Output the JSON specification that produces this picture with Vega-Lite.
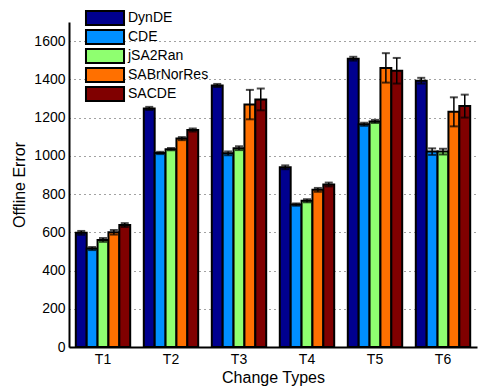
{
  "$schema": "https://vega.github.io/schema/vega-lite/v6.json",
  "autosize": "none",
  "width": 408,
  "height": 325,
  "padding": {"left": 69, "top": 22, "right": 1, "bottom": 42},
  "config": {
    "font": "Liberation Sans",
    "view": {"stroke": null},
    "axis": {"labelFont": "Liberation Sans", "titleFont": "Liberation Sans", "labelColor": "black", "titleColor": "black", "titleFontWeight": "normal", "domainColor": "black", "domainWidth": 2}
  },
  "data": {"values": [
    {"t": "T1", "s": "DynDE", "v": 597, "lo": 587, "hi": 607},
    {"t": "T1", "s": "CDE", "v": 515, "lo": 507, "hi": 523},
    {"t": "T1", "s": "jSA2Ran", "v": 560, "lo": 550, "hi": 570},
    {"t": "T1", "s": "SABrNorRes", "v": 600, "lo": 588, "hi": 612},
    {"t": "T1", "s": "SACDE", "v": 638, "lo": 628, "hi": 648},
    {"t": "T2", "s": "DynDE", "v": 1248, "lo": 1240, "hi": 1256},
    {"t": "T2", "s": "CDE", "v": 1015, "lo": 1009, "hi": 1021},
    {"t": "T2", "s": "jSA2Ran", "v": 1035, "lo": 1029, "hi": 1041},
    {"t": "T2", "s": "SABrNorRes", "v": 1090, "lo": 1082, "hi": 1098},
    {"t": "T2", "s": "SACDE", "v": 1135, "lo": 1127, "hi": 1143},
    {"t": "T3", "s": "DynDE", "v": 1368, "lo": 1360, "hi": 1376},
    {"t": "T3", "s": "CDE", "v": 1013, "lo": 1003, "hi": 1023},
    {"t": "T3", "s": "jSA2Ran", "v": 1040, "lo": 1030, "hi": 1050},
    {"t": "T3", "s": "SABrNorRes", "v": 1268, "lo": 1191, "hi": 1345},
    {"t": "T3", "s": "SACDE", "v": 1295, "lo": 1238, "hi": 1352},
    {"t": "T4", "s": "DynDE", "v": 940, "lo": 930, "hi": 950},
    {"t": "T4", "s": "CDE", "v": 745, "lo": 739, "hi": 751},
    {"t": "T4", "s": "jSA2Ran", "v": 765, "lo": 757, "hi": 773},
    {"t": "T4", "s": "SABrNorRes", "v": 822, "lo": 812, "hi": 832},
    {"t": "T4", "s": "SACDE", "v": 850, "lo": 840, "hi": 860},
    {"t": "T5", "s": "DynDE", "v": 1508, "lo": 1498, "hi": 1518},
    {"t": "T5", "s": "CDE", "v": 1165, "lo": 1157, "hi": 1173},
    {"t": "T5", "s": "jSA2Ran", "v": 1180, "lo": 1172, "hi": 1188},
    {"t": "T5", "s": "SABrNorRes", "v": 1460, "lo": 1383, "hi": 1537},
    {"t": "T5", "s": "SACDE", "v": 1445, "lo": 1378, "hi": 1512},
    {"t": "T6", "s": "DynDE", "v": 1393, "lo": 1378, "hi": 1408},
    {"t": "T6", "s": "CDE", "v": 1022, "lo": 1005, "hi": 1039},
    {"t": "T6", "s": "jSA2Ran", "v": 1022, "lo": 1007, "hi": 1037},
    {"t": "T6", "s": "SABrNorRes", "v": 1230, "lo": 1154, "hi": 1306},
    {"t": "T6", "s": "SACDE", "v": 1260, "lo": 1200, "hi": 1320}
  ]},
  "encoding": {
    "x": {"field": "t", "type": "nominal", "scale": {"paddingInner": 0.2, "paddingOuter": 0.1},
      "axis": {"title": "Change Types", "labelAngle": 0, "ticks": false, "labelPadding": 5, "labelFontSize": 14, "titleFontSize": 16, "titlePadding": 3, "grid": false}},
    "xOffset": {"field": "s", "type": "nominal", "sort": ["DynDE", "CDE", "jSA2Ran", "SABrNorRes", "SACDE"], "scale": {"paddingInner": 0, "paddingOuter": 0}}
  },
  "layer": [
    {
      "mark": {"type": "bar", "stroke": "black", "strokeWidth": 2},
      "encoding": {
        "y": {"field": "v", "type": "quantitative", "scale": {"domain": [0, 1700], "nice": false},
          "axis": {"title": "Offline Error", "format": "d", "values": [0, 200, 400, 600, 800, 1000, 1200, 1400, 1600], "ticks": false, "labelPadding": 4, "labelFontSize": 14, "titleFontSize": 16, "titlePadding": 6, "grid": true, "gridDash": [1, 4], "gridColor": "#444", "gridWidth": 1, "gridOpacity": 1}},
        "color": {"field": "s", "type": "nominal", "sort": ["DynDE", "CDE", "jSA2Ran", "SABrNorRes", "SACDE"],
          "scale": {"range": ["#00008f", "#008fff", "#8fff70", "#ff7000", "#800000"]},
          "legend": {"title": null, "orient": "none", "legendX": 29, "legendY": -11, "symbolType": "M-3.17,-1.17H3.17V1.17H-3.17Z", "symbolSize": 144, "symbolStrokeColor": "black", "symbolStrokeWidth": 2, "symbolOpacity": 1, "labelFontSize": 14, "labelColor": "black", "labelOffset": 16, "rowPadding": -5, "padding": 0}}
      }
    },
    {
      "mark": {"type": "rule", "color": "black", "strokeWidth": 1.5},
      "encoding": {"y": {"field": "lo", "type": "quantitative"}, "y2": {"field": "hi"}}
    },
    {
      "mark": {"type": "tick", "color": "black", "thickness": 2, "size": 8},
      "encoding": {"y": {"field": "lo", "type": "quantitative"}}
    },
    {
      "mark": {"type": "tick", "color": "black", "thickness": 2, "size": 8},
      "encoding": {"y": {"field": "hi", "type": "quantitative"}}
    }
  ]
}
